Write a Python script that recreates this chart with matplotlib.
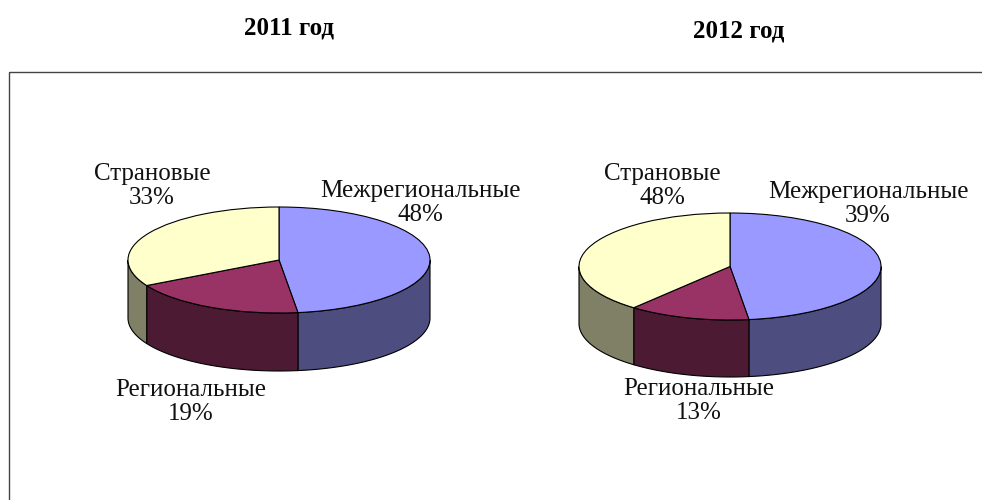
import numpy as np
import matplotlib
matplotlib.use("Agg")
import matplotlib.pyplot as plt
from matplotlib.patches import Rectangle

W, H = 982, 500
titles = ["2011 год", "2012 год"]
categories = ["Межрегиональные", "Региональные", "Страновые"]
slices_2011 = [48, 19, 33]
slices_2012 = [48, 13, 39]
labels_2011 = ["48%", "19%", "33%"]
labels_2012 = ["39%", "13%", "48%"]
top_colors = ["#9999FF", "#993366", "#FFFFCC"]
side_colors = ["#4D4D80", "#4D1A33", "#808066"]

plt.rcParams["font.family"] = ["Liberation Serif", "DejaVu Serif"]
fig = plt.figure(figsize=(W / 100, H / 100), dpi=100, facecolor="white")
bg = fig.add_axes([0, 0, 1, 1])
bg.set_xlim(0, W); bg.set_ylim(H, 0); bg.axis("off")
bg.add_patch(Rectangle((9, 72), 980, 440, fill=False, ec="#444444", lw=1.0))


def draw_pie(cx, cy, rx, ry, depth, values):
    ax = fig.add_axes([(cx - rx) / W, 1 - (cy + ry + depth) / H, 2 * rx / W, (2 * ry + depth) / H])
    ax.axis("off")
    d = depth / ry
    edges = np.cumsum([0] + list(values)) / np.sum(values) * 2 * np.pi
    for i in range(len(values)):
        a0, a1 = max(edges[i], np.pi / 2), min(edges[i + 1], 3 * np.pi / 2)
        if a1 > a0:
            t = np.linspace(a0, a1, 80)
            x, y = np.sin(t), np.cos(t)
            ax.fill(np.r_[x, x[::-1]], np.r_[y, y[::-1] - d], fc=side_colors[i], ec="black", lw=0.8, zorder=1)
    ax.pie(values, colors=top_colors, startangle=90, counterclock=False, radius=1,
           wedgeprops=dict(ec="black", lw=0.8, zorder=2), frame=False)
    ax.set_aspect("auto")
    ax.set_xlim(-1, 1)
    ax.set_ylim(-1 - d, 1)
    for p in ax.patches:
        p.set_clip_on(False)


draw_pie(279, 260, 151, 53, 58, slices_2011)
draw_pie(730, 266.5, 151, 53.5, 57, slices_2012)

bg.set_zorder(5)
bg.patch.set_alpha(0)


def label(x, y, cat, pct, fs=18):
    bg.text(x, y, cat + "\n" + pct, ha="center", va="center", fontsize=fs, linespacing=1.13, color="#111111")


label(420, 203, categories[0], labels_2011[0])
label(191, 402, categories[1], labels_2011[1])
label(152, 186, categories[2], labels_2011[2])
label(868, 204, categories[0], labels_2012[0])
label(699, 401, categories[1], labels_2012[1])
label(662, 186, categories[2], labels_2012[2])
bg.text(289.5, 28, titles[0], ha="center", va="center", fontsize=18, fontweight="bold")
bg.text(739, 31, titles[1], ha="center", va="center", fontsize=18, fontweight="bold")
fig.savefig("out.png", dpi=100)
